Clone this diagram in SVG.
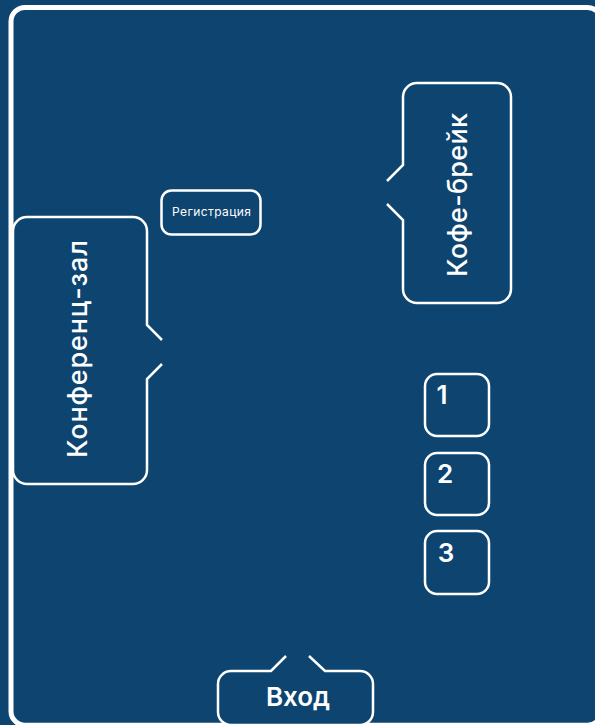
<svg xmlns="http://www.w3.org/2000/svg" width="595" height="725" viewBox="0 0 595 725">
<style>
.s{fill:#0e4470;stroke:#fff;stroke-width:2.5;stroke-linejoin:miter}
.t{fill:#fff;font-family:"Inter","Liberation Sans",sans-serif;font-weight:500;text-anchor:middle}
.b{font-weight:600}
</style>
<rect width="595" height="725" fill="#0e4470"/>
<g id="hall"><rect x="11" y="7.500" width="590.500" height="717.700" rx="14" fill="#0e4470" stroke="#fff" stroke-width="5"/></g>
<g id="konferents-zal">
<path class="s" d="M162 340L147 325V231a14 14 0 0 0-14-14H27a14 14 0 0 0-14 14V470a14 14 0 0 0 14 14H133a14 14 0 0 0 14-14V379L162 364"/>
<text class="t" font-size="27" transform="translate(87 349) rotate(-90)" textLength="218" lengthAdjust="spacing">Конференц-зал</text>
</g>
<g id="registratsiya">
<rect class="s" x="161.500" y="190.500" width="99" height="44" rx="10"/>
<text class="t" style="font-weight:400" font-size="12" x="211.500" y="216" textLength="79" lengthAdjust="spacing">Регистрация</text>
</g>
<g id="kofe-breik">
<path class="s" d="M387 181L403 165V97a14 14 0 0 1 14-14H497a14 14 0 0 1 14 14V289a14 14 0 0 1-14 14H417a14 14 0 0 1-14-14V220L387 204"/>
<text class="t" font-size="27" transform="translate(467 195) rotate(-90)" textLength="164" lengthAdjust="spacing">Кофе-брейк</text>
</g>
<g id="booth-1"><rect class="s" x="425" y="374" width="64" height="62" rx="12"/><text class="t b" font-size="26" x="442" y="404">1</text></g>
<g id="booth-2"><rect class="s" x="425" y="453" width="64" height="62" rx="12"/><text class="t b" font-size="26" x="445" y="483">2</text></g>
<g id="booth-3"><rect class="s" x="425" y="531" width="64" height="63" rx="12"/><text class="t b" font-size="26" x="446" y="562">3</text></g>
<g id="vkhod">
<path class="s" d="M286 656L271 671H231a13 13 0 0 0-13 13V712a13 13 0 0 0 13 13H360a13 13 0 0 0 13-13V684a13 13 0 0 0-13-13H325L309 656"/>
<text class="t b" font-size="26" x="298" y="706">Вход</text>
</g>
</svg>
